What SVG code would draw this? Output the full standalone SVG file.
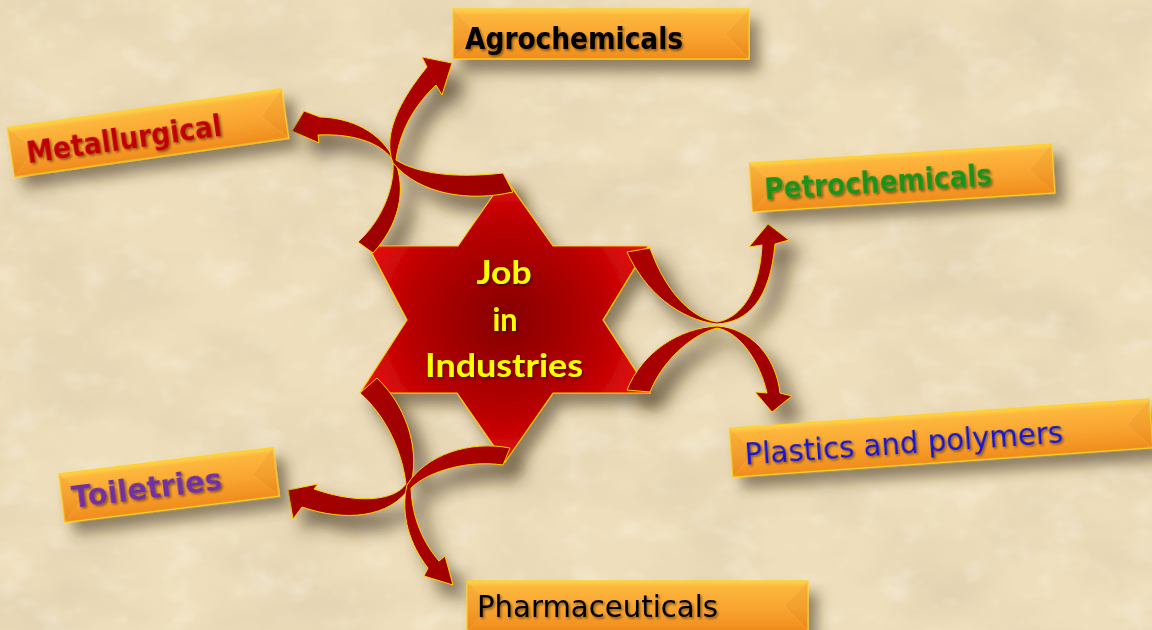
<svg xmlns="http://www.w3.org/2000/svg" xmlns:xlink="http://www.w3.org/1999/xlink" width="1152" height="630" viewBox="0 0 1152 630">
<defs>
  <style>
    .lbl { font-family: "DejaVu Sans", "Liberation Sans", sans-serif; font-size: 31px; filter: url(#txtShadow); }
    .b { font-weight: bold; }
    .ctr { font-family: Lato, "Open Sans", "Liberation Sans", sans-serif; font-weight: bold; font-size: 33px; fill: #ffff00; text-anchor: middle; filter: url(#txtShadow); }
    .face { fill: url(#boxGrad); stroke: #ffd21a; stroke-width: 1.2; }
    .bev { fill: #b85a00; fill-opacity: 0.08; stroke: #ffd27a; stroke-opacity: 0.35; stroke-width: 0.7; }
    .arrow { fill: url(#arrowGrad); stroke: #ffd400; stroke-width: 1; stroke-linejoin: round; }
  </style>
  <linearGradient id="boxGrad" x1="0" y1="0" x2="0" y2="1">
    <stop offset="0" stop-color="#ffd54a"/>
    <stop offset="0.12" stop-color="#fcb63c"/>
    <stop offset="0.55" stop-color="#f9a431"/>
    <stop offset="1" stop-color="#ef8c1c"/>
  </linearGradient>
  <linearGradient id="arrowGrad" x1="0" y1="0" x2="1" y2="1">
    <stop offset="0" stop-color="#b00000"/>
    <stop offset="1" stop-color="#9a0000"/>
  </linearGradient>
  <radialGradient id="starGrad" cx="0.5" cy="0.5" r="0.55">
    <stop offset="0" stop-color="#850000"/>
    <stop offset="0.6" stop-color="#b80000"/>
    <stop offset="1" stop-color="#ec1010"/>
  </radialGradient>
  <filter id="paper" filterUnits="userSpaceOnUse" x="0" y="0" width="1152" height="630">
    <feTurbulence type="fractalNoise" baseFrequency="0.008 0.012" numOctaves="5" seed="7" result="n"/>
    <feColorMatrix in="n" type="matrix" values="0 0 0 0 0.66  0 0 0 0 0.55  0 0 0 0 0.38  0.9 0 0 0 -0.34"/>
  </filter>
  <filter id="paper2" filterUnits="userSpaceOnUse" x="0" y="0" width="1152" height="630">
    <feTurbulence type="fractalNoise" baseFrequency="0.025 0.035" numOctaves="3" seed="11" result="n"/>
    <feColorMatrix in="n" type="matrix" values="0 0 0 0 1  0 0 0 0 0.97  0 0 0 0 0.88  0 0.8 0 0 -0.42"/>
  </filter>
  <filter id="shadow" x="-20%" y="-40%" width="150%" height="200%">
    <feDropShadow dx="9" dy="12" stdDeviation="7" flood-color="#3e2e14" flood-opacity="0.55"/>
  </filter>
  <filter id="shadowOnly" filterUnits="userSpaceOnUse" x="0" y="0" width="1152" height="630">
    <feGaussianBlur in="SourceAlpha" stdDeviation="9"/>
    <feOffset dx="13" dy="15" result="o"/>
    <feFlood flood-color="#3e2e14" flood-opacity="0.7"/>
    <feComposite in2="o" operator="in"/>
  </filter>
  <filter id="txtShadow" x="-10%" y="-30%" width="120%" height="160%">
    <feDropShadow dx="1.5" dy="1.8" stdDeviation="1" flood-color="#000" flood-opacity="0.45"/>
  </filter>
</defs>

<!-- background -->
<rect width="1152" height="630" fill="#eedebb"/>
<rect width="1152" height="630" filter="url(#paper)"/>
<rect width="1152" height="630" filter="url(#paper2)"/>

<!-- shadow of connectors -->
<use xlink:href="#connectors" href="#connectors" filter="url(#shadowOnly)"/>

<!-- center node -->
<g id="node-center">
  <polygon points="505,178 553,246 648,246 603,320 650,393 553,393 505,462 457,393 360,393 407,320 368,246 458,246" fill="url(#starGrad)" stroke="#ffcc00" stroke-width="1.2" filter="url(#shadow)"/>
  <text class="ctr" x="504" y="284" textLength="55" lengthAdjust="spacingAndGlyphs">Job</text>
  <text class="ctr" x="505" y="331" textLength="25" lengthAdjust="spacingAndGlyphs">in</text>
  <text class="ctr" x="504" y="377" textLength="158" lengthAdjust="spacingAndGlyphs">Industries</text>
</g>

<!-- connectors -->
<g id="connectors">
  <path class="arrow" d="M 627 252 C 645 292, 680 320, 717 324 C 748 322, 770 300, 775 244 L 789 240 L 768 224 L 749 247 L 762 245 C 760 290, 742 318, 717 322 C 690 318, 665 290, 650 248 Z"/>
  <path class="arrow" d="M 627 390 C 642 352, 680 328, 717 326 C 750 328, 776 356, 780 393 L 792 396 L 772 412 L 755 392 L 767 393 C 760 362, 740 332, 717 328 C 690 335, 662 362, 650 392 Z"/>
  <path class="arrow" d="M 358 242 C 380 222, 395 190, 393 161 C 385 146, 358 133, 318 135 L 319 143 L 292 131 L 304 111 L 320 117 C 352 118, 380 132, 394 159 C 408 190, 398 226, 373 253 Z"/>
  <path class="arrow" d="M 513 192 C 470 202, 420 195, 393 163 C 382 135, 400 100, 427 67 L 422 57 L 452 63 L 442 95 L 436 85 C 415 105, 400 130, 396 160 C 420 175, 460 178, 503 173 Z"/>
  <path class="arrow" d="M 360 393 C 385 415, 402 450, 406 484 C 395 500, 360 505, 314 489 L 318 484 L 288 490 L 293 519 L 302 507 C 345 522, 390 518, 410 487 C 420 455, 410 410, 377 378 Z"/>
  <path class="arrow" d="M 510 448 C 470 440, 425 455, 407 485 C 400 515, 410 545, 428 568 L 424 576 L 453 585 L 445 556 L 439 561 C 425 545, 412 520, 411 488 C 430 470, 470 460, 503 465 Z"/>
</g>

<!-- label nodes -->
<g id="node-agrochemicals" transform="translate(601,34)">
  <g filter="url(#shadow)">
    <rect class="face" x="-148" y="-25" width="296" height="50"/>
    <path class="bev" d="M -148 -25 L -124 0 L -148 25 Z M 148 -25 L 124 0 L 148 25 Z"/>
  </g>
  <text class="lbl b" x="-136" y="15" fill="#000" textLength="218" lengthAdjust="spacingAndGlyphs">Agrochemicals</text>
</g>

<g id="node-metallurgical" transform="translate(148,133) rotate(-8.1)">
  <g filter="url(#shadow)">
    <rect class="face" x="-138.5" y="-25" width="277" height="50"/>
    <path class="bev" d="M -138.5 -25 L -114.5 0 L -138.5 25 Z M 138.5 -25 L 114.5 0 L 138.5 25 Z"/>
  </g>
  <text class="lbl b" x="-123" y="13" fill="#c00000" textLength="197" lengthAdjust="spacingAndGlyphs">Metallurgical</text>
</g>

<g id="node-petrochemicals" transform="translate(902,178) rotate(-3.6)">
  <g filter="url(#shadow)">
    <rect class="face" x="-151.5" y="-24.5" width="303" height="49"/>
    <path class="bev" d="M -151.5 -24.5 L -127.5 0 L -151.5 24.5 Z M 151.5 -24.5 L 127.5 0 L 151.5 24.5 Z"/>
  </g>
  <text class="lbl b" x="-138" y="13" fill="#1f921f" textLength="228" lengthAdjust="spacingAndGlyphs">Petrochemicals</text>
</g>

<g id="node-plastics" transform="translate(941,438) rotate(-4)">
  <g filter="url(#shadow)">
    <rect class="face" x="-210.5" y="-24.5" width="421" height="49"/>
    <path class="bev" d="M -210.5 -24.5 L -186.5 0 L -210.5 24.5 Z M 210.5 -24.5 L 186.5 0 L 210.5 24.5 Z"/>
  </g>
  <text class="lbl" x="-197" y="13" fill="#1414d0" textLength="319" lengthAdjust="spacingAndGlyphs">Plastics and polymers</text>
</g>

<g id="node-toiletries" transform="translate(169,485) rotate(-7)">
  <g filter="url(#shadow)">
    <rect class="face" x="-108" y="-24.5" width="216" height="49"/>
    <path class="bev" d="M -108 -24.5 L -84 0 L -108 24.5 Z M 108 -24.5 L 84 0 L 108 24.5 Z"/>
  </g>
  <text class="lbl b" x="-98" y="11" fill="#7030a0" textLength="151" lengthAdjust="spacingAndGlyphs">Toiletries</text>
</g>

<g id="node-pharmaceuticals" transform="translate(637.5,606)">
  <g filter="url(#shadow)">
    <rect class="face" x="-170.5" y="-25" width="341" height="50"/>
    <path class="bev" d="M -170.5 -25 L -146.5 0 L -170.5 25 Z M 170.5 -25 L 146.5 0 L 170.5 25 Z"/>
  </g>
  <text class="lbl" x="-160.5" y="11" fill="#000" textLength="241" lengthAdjust="spacingAndGlyphs">Pharmaceuticals</text>
</g>
</svg>
